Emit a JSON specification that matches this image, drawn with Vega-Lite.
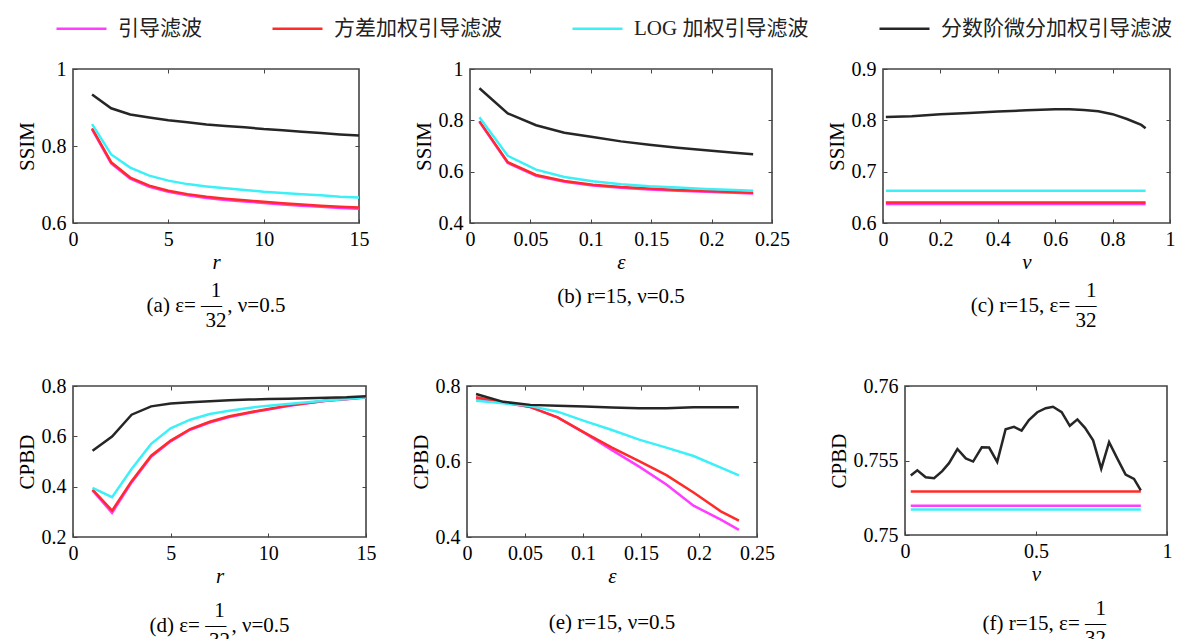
{
  "$schema": "https://vega.github.io/schema/vega-lite/v6.json",
  "background": "white",
  "padding": {"left": 15, "top": 2, "right": 0, "bottom": 0},
  "datasets": {
    "a": [
      {"s":"引导滤波","x":1,"y":0.843},{"s":"引导滤波","x":2,"y":0.755},{"s":"引导滤波","x":3,"y":0.715},{"s":"引导滤波","x":4,"y":0.694},{"s":"引导滤波","x":5,"y":0.681},{"s":"引导滤波","x":6,"y":0.672},{"s":"引导滤波","x":7,"y":0.665},{"s":"引导滤波","x":8,"y":0.660},{"s":"引导滤波","x":9,"y":0.656},{"s":"引导滤波","x":10,"y":0.652},{"s":"引导滤波","x":11,"y":0.648},{"s":"引导滤波","x":12,"y":0.645},{"s":"引导滤波","x":13,"y":0.642},{"s":"引导滤波","x":14,"y":0.639},{"s":"引导滤波","x":15,"y":0.637},
      {"s":"方差加权引导滤波","x":1,"y":0.846},{"s":"方差加权引导滤波","x":2,"y":0.758},{"s":"方差加权引导滤波","x":3,"y":0.718},{"s":"方差加权引导滤波","x":4,"y":0.697},{"s":"方差加权引导滤波","x":5,"y":0.684},{"s":"方差加权引导滤波","x":6,"y":0.675},{"s":"方差加权引导滤波","x":7,"y":0.668},{"s":"方差加权引导滤波","x":8,"y":0.663},{"s":"方差加权引导滤波","x":9,"y":0.659},{"s":"方差加权引导滤波","x":10,"y":0.655},{"s":"方差加权引导滤波","x":11,"y":0.651},{"s":"方差加权引导滤波","x":12,"y":0.648},{"s":"方差加权引导滤波","x":13,"y":0.645},{"s":"方差加权引导滤波","x":14,"y":0.642},{"s":"方差加权引导滤波","x":15,"y":0.640},
      {"s":"LOG 加权引导滤波","x":1,"y":0.857},{"s":"LOG 加权引导滤波","x":2,"y":0.778},{"s":"LOG 加权引导滤波","x":3,"y":0.744},{"s":"LOG 加权引导滤波","x":4,"y":0.723},{"s":"LOG 加权引导滤波","x":5,"y":0.710},{"s":"LOG 加权引导滤波","x":6,"y":0.701},{"s":"LOG 加权引导滤波","x":7,"y":0.695},{"s":"LOG 加权引导滤波","x":8,"y":0.690},{"s":"LOG 加权引导滤波","x":9,"y":0.686},{"s":"LOG 加权引导滤波","x":10,"y":0.681},{"s":"LOG 加权引导滤波","x":11,"y":0.678},{"s":"LOG 加权引导滤波","x":12,"y":0.6745},{"s":"LOG 加权引导滤波","x":13,"y":0.672},{"s":"LOG 加权引导滤波","x":14,"y":0.668},{"s":"LOG 加权引导滤波","x":15,"y":0.666},
      {"s":"分数阶微分加权引导滤波","x":1,"y":0.934},{"s":"分数阶微分加权引导滤波","x":2,"y":0.898},{"s":"分数阶微分加权引导滤波","x":3,"y":0.882},{"s":"分数阶微分加权引导滤波","x":4,"y":0.874},{"s":"分数阶微分加权引导滤波","x":5,"y":0.867},{"s":"分数阶微分加权引导滤波","x":6,"y":0.8615},{"s":"分数阶微分加权引导滤波","x":7,"y":0.856},{"s":"分数阶微分加权引导滤波","x":8,"y":0.852},{"s":"分数阶微分加权引导滤波","x":9,"y":0.8485},{"s":"分数阶微分加权引导滤波","x":10,"y":0.844},{"s":"分数阶微分加权引导滤波","x":11,"y":0.841},{"s":"分数阶微分加权引导滤波","x":12,"y":0.837},{"s":"分数阶微分加权引导滤波","x":13,"y":0.834},{"s":"分数阶微分加权引导滤波","x":14,"y":0.830},{"s":"分数阶微分加权引导滤波","x":15,"y":0.827}
    ],
    "b": [
      {"s":"引导滤波","x":0.0078,"y":0.794},{"s":"引导滤波","x":0.03125,"y":0.634},{"s":"引导滤波","x":0.0547,"y":0.584},{"s":"引导滤波","x":0.0781,"y":0.561},{"s":"引导滤波","x":0.1016,"y":0.546},{"s":"引导滤波","x":0.125,"y":0.537},{"s":"引导滤波","x":0.1484,"y":0.531},{"s":"引导滤波","x":0.1719,"y":0.526},{"s":"引导滤波","x":0.1953,"y":0.522},{"s":"引导滤波","x":0.2188,"y":0.518},{"s":"引导滤波","x":0.2344,"y":0.515},
      {"s":"方差加权引导滤波","x":0.0078,"y":0.797},{"s":"方差加权引导滤波","x":0.03125,"y":0.637},{"s":"方差加权引导滤波","x":0.0547,"y":0.587},{"s":"方差加权引导滤波","x":0.0781,"y":0.564},{"s":"方差加权引导滤波","x":0.1016,"y":0.549},{"s":"方差加权引导滤波","x":0.125,"y":0.540},{"s":"方差加权引导滤波","x":0.1484,"y":0.534},{"s":"方差加权引导滤波","x":0.1719,"y":0.529},{"s":"方差加权引导滤波","x":0.1953,"y":0.525},{"s":"方差加权引导滤波","x":0.2188,"y":0.521},{"s":"方差加权引导滤波","x":0.2344,"y":0.518},
      {"s":"LOG 加权引导滤波","x":0.0078,"y":0.812},{"s":"LOG 加权引导滤波","x":0.03125,"y":0.662},{"s":"LOG 加权引导滤波","x":0.0547,"y":0.608},{"s":"LOG 加权引导滤波","x":0.0781,"y":0.579},{"s":"LOG 加权引导滤波","x":0.1016,"y":0.5625},{"s":"LOG 加权引导滤波","x":0.125,"y":0.551},{"s":"LOG 加权引导滤波","x":0.1484,"y":0.543},{"s":"LOG 加权引导滤波","x":0.1719,"y":0.538},{"s":"LOG 加权引导滤波","x":0.1953,"y":0.5325},{"s":"LOG 加权引导滤波","x":0.2188,"y":0.529},{"s":"LOG 加权引导滤波","x":0.2344,"y":0.526},
      {"s":"分数阶微分加权引导滤波","x":0.0078,"y":0.925},{"s":"分数阶微分加权引导滤波","x":0.03125,"y":0.827},{"s":"分数阶微分加权引导滤波","x":0.0547,"y":0.781},{"s":"分数阶微分加权引导滤波","x":0.0781,"y":0.752},{"s":"分数阶微分加权引导滤波","x":0.1016,"y":0.735},{"s":"分数阶微分加权引导滤波","x":0.125,"y":0.718},{"s":"分数阶微分加权引导滤波","x":0.1484,"y":0.705},{"s":"分数阶微分加权引导滤波","x":0.1719,"y":0.693},{"s":"分数阶微分加权引导滤波","x":0.1953,"y":0.683},{"s":"分数阶微分加权引导滤波","x":0.2188,"y":0.674},{"s":"分数阶微分加权引导滤波","x":0.2344,"y":0.668}
    ],
    "c": [
      {"s":"引导滤波","x":0.01,"y":0.637},{"s":"引导滤波","x":0.915,"y":0.637},
      {"s":"方差加权引导滤波","x":0.01,"y":0.640},{"s":"方差加权引导滤波","x":0.915,"y":0.640},
      {"s":"LOG 加权引导滤波","x":0.01,"y":0.663},{"s":"LOG 加权引导滤波","x":0.915,"y":0.663},
      {"s":"分数阶微分加权引导滤波","x":0.01,"y":0.8065},{"s":"分数阶微分加权引导滤波","x":0.1,"y":0.808},{"s":"分数阶微分加权引导滤波","x":0.2,"y":0.8118},{"s":"分数阶微分加权引导滤波","x":0.3,"y":0.8144},{"s":"分数阶微分加权引导滤波","x":0.4,"y":0.817},{"s":"分数阶微分加权引导滤波","x":0.5,"y":0.8196},{"s":"分数阶微分加权引导滤波","x":0.6,"y":0.8216},{"s":"分数阶微分加权引导滤波","x":0.65,"y":0.8216},{"s":"分数阶微分加权引导滤波","x":0.7,"y":0.8203},{"s":"分数阶微分加权引导滤波","x":0.75,"y":0.8177},{"s":"分数阶微分加权引导滤波","x":0.8,"y":0.812},{"s":"分数阶微分加权引导滤波","x":0.85,"y":0.8026},{"s":"分数阶微分加权引导滤波","x":0.9,"y":0.791},{"s":"分数阶微分加权引导滤波","x":0.915,"y":0.7845}
    ],
    "d": [
      {"s":"引导滤波","x":1,"y":0.385},{"s":"引导滤波","x":2,"y":0.296},{"s":"引导滤波","x":3,"y":0.417},{"s":"引导滤波","x":4,"y":0.519},{"s":"引导滤波","x":5,"y":0.580},{"s":"引导滤波","x":6,"y":0.626},{"s":"引导滤波","x":7,"y":0.655},{"s":"引导滤波","x":8,"y":0.677},{"s":"引导滤波","x":9,"y":0.693},{"s":"引导滤波","x":10,"y":0.707},{"s":"引导滤波","x":11,"y":0.720},{"s":"引导滤波","x":12,"y":0.731},{"s":"引导滤波","x":13,"y":0.741},{"s":"引导滤波","x":14,"y":0.747},{"s":"引导滤波","x":15,"y":0.754},
      {"s":"方差加权引导滤波","x":1,"y":0.388},{"s":"方差加权引导滤波","x":2,"y":0.305},{"s":"方差加权引导滤波","x":3,"y":0.422},{"s":"方差加权引导滤波","x":4,"y":0.523},{"s":"方差加权引导滤波","x":5,"y":0.583},{"s":"方差加权引导滤波","x":6,"y":0.629},{"s":"方差加权引导滤波","x":7,"y":0.658},{"s":"方差加权引导滤波","x":8,"y":0.6795},{"s":"方差加权引导滤波","x":9,"y":0.695},{"s":"方差加权引导滤波","x":10,"y":0.709},{"s":"方差加权引导滤波","x":11,"y":0.722},{"s":"方差加权引导滤波","x":12,"y":0.7325},{"s":"方差加权引导滤波","x":13,"y":0.742},{"s":"方差加权引导滤波","x":14,"y":0.748},{"s":"方差加权引导滤波","x":15,"y":0.755},
      {"s":"LOG 加权引导滤波","x":1,"y":0.395},{"s":"LOG 加权引导滤波","x":2,"y":0.358},{"s":"LOG 加权引导滤波","x":3,"y":0.470},{"s":"LOG 加权引导滤波","x":4,"y":0.570},{"s":"LOG 加权引导滤波","x":5,"y":0.632},{"s":"LOG 加权引导滤波","x":6,"y":0.666},{"s":"LOG 加权引导滤波","x":7,"y":0.689},{"s":"LOG 加权引导滤波","x":8,"y":0.702},{"s":"LOG 加权引导滤波","x":9,"y":0.713},{"s":"LOG 加权引导滤波","x":10,"y":0.722},{"s":"LOG 加权引导滤波","x":11,"y":0.7285},{"s":"LOG 加权引导滤波","x":12,"y":0.735},{"s":"LOG 加权引导滤波","x":13,"y":0.742},{"s":"LOG 加权引导滤波","x":14,"y":0.748},{"s":"LOG 加权引导滤波","x":15,"y":0.755},
      {"s":"分数阶微分加权引导滤波","x":1,"y":0.543},{"s":"分数阶微分加权引导滤波","x":2,"y":0.599},{"s":"分数阶微分加权引导滤波","x":3,"y":0.686},{"s":"分数阶微分加权引导滤波","x":4,"y":0.719},{"s":"分数阶微分加权引导滤波","x":5,"y":0.730},{"s":"分数阶微分加权引导滤波","x":6,"y":0.735},{"s":"分数阶微分加权引导滤波","x":7,"y":0.739},{"s":"分数阶微分加权引导滤波","x":8,"y":0.743},{"s":"分数阶微分加权引导滤波","x":9,"y":0.746},{"s":"分数阶微分加权引导滤波","x":10,"y":0.748},{"s":"分数阶微分加权引导滤波","x":11,"y":0.749},{"s":"分数阶微分加权引导滤波","x":12,"y":0.751},{"s":"分数阶微分加权引导滤波","x":13,"y":0.753},{"s":"分数阶微分加权引导滤波","x":14,"y":0.755},{"s":"分数阶微分加权引导滤波","x":15,"y":0.759}
    ],
    "e": [
      {"s":"引导滤波","x":0.0078,"y":0.767},{"s":"引导滤波","x":0.03125,"y":0.756},{"s":"引导滤波","x":0.0547,"y":0.744},{"s":"引导滤波","x":0.0781,"y":0.717},{"s":"引导滤波","x":0.1016,"y":0.675},{"s":"引导滤波","x":0.125,"y":0.630},{"s":"引导滤波","x":0.1484,"y":0.5865},{"s":"引导滤波","x":0.1719,"y":0.539},{"s":"引导滤波","x":0.1953,"y":0.483},{"s":"引导滤波","x":0.2188,"y":0.446},{"s":"引导滤波","x":0.2344,"y":0.419},
      {"s":"方差加权引导滤波","x":0.0078,"y":0.770},{"s":"方差加权引导滤波","x":0.03125,"y":0.757},{"s":"方差加权引导滤波","x":0.0547,"y":0.744},{"s":"方差加权引导滤波","x":0.0781,"y":0.717},{"s":"方差加权引导滤波","x":0.1016,"y":0.676},{"s":"方差加权引导滤波","x":0.125,"y":0.637},{"s":"方差加权引导滤波","x":0.1484,"y":0.601},{"s":"方差加权引导滤波","x":0.1719,"y":0.564},{"s":"方差加权引导滤波","x":0.1953,"y":0.518},{"s":"方差加权引导滤波","x":0.2188,"y":0.468},{"s":"方差加权引导滤波","x":0.2344,"y":0.4435},
      {"s":"LOG 加权引导滤波","x":0.0078,"y":0.761},{"s":"LOG 加权引导滤波","x":0.03125,"y":0.754},{"s":"LOG 加权引导滤波","x":0.0547,"y":0.7467},{"s":"LOG 加权引导滤波","x":0.0781,"y":0.732},{"s":"LOG 加权引导滤波","x":0.1016,"y":0.707},{"s":"LOG 加权引导滤波","x":0.125,"y":0.6834},{"s":"LOG 加权引导滤波","x":0.1484,"y":0.658},{"s":"LOG 加权引导滤波","x":0.1719,"y":0.6368},{"s":"LOG 加权引导滤波","x":0.1953,"y":0.6145},{"s":"LOG 加权引导滤波","x":0.2188,"y":0.584},{"s":"LOG 加权引导滤波","x":0.2344,"y":0.5635},
      {"s":"分数阶微分加权引导滤波","x":0.0078,"y":0.7787},{"s":"分数阶微分加权引导滤波","x":0.03125,"y":0.758},{"s":"分数阶微分加权引导滤波","x":0.0547,"y":0.750},{"s":"分数阶微分加权引导滤波","x":0.0781,"y":0.7476},{"s":"分数阶微分加权引导滤波","x":0.1016,"y":0.746},{"s":"分数阶微分加权引导滤波","x":0.125,"y":0.743},{"s":"分数阶微分加权引导滤波","x":0.1484,"y":0.7413},{"s":"分数阶微分加权引导滤波","x":0.1719,"y":0.7413},{"s":"分数阶微分加权引导滤波","x":0.1953,"y":0.744},{"s":"分数阶微分加权引导滤波","x":0.2188,"y":0.744},{"s":"分数阶微分加权引导滤波","x":0.2344,"y":0.744}
    ],
    "f": [
      {"s":"引导滤波","x":0.022,"y":0.75197},{"s":"引导滤波","x":0.9,"y":0.75197},
      {"s":"方差加权引导滤波","x":0.022,"y":0.75292},{"s":"方差加权引导滤波","x":0.9,"y":0.75292},
      {"s":"LOG 加权引导滤波","x":0.022,"y":0.75171},{"s":"LOG 加权引导滤波","x":0.9,"y":0.75171},
      {"s":"分数阶微分加权引导滤波","x":0.022,"y":0.75400},{"s":"分数阶微分加权引导滤波","x":0.047,"y":0.75434},{"s":"分数阶微分加权引导滤波","x":0.079,"y":0.75388},{"s":"分数阶微分加权引导滤波","x":0.111,"y":0.75381},{"s":"分数阶微分加权引导滤波","x":0.142,"y":0.75429},{"s":"分数阶微分加权引导滤波","x":0.168,"y":0.75482},{"s":"分数阶微分加权引导滤波","x":0.200,"y":0.75577},{"s":"分数阶微分加权引导滤波","x":0.232,"y":0.75514},{"s":"分数阶微分加权引导滤波","x":0.260,"y":0.75493},{"s":"分数阶微分加权引导滤波","x":0.293,"y":0.75589},{"s":"分数阶微分加权引导滤波","x":0.321,"y":0.75587},{"s":"分数阶微分加权引导滤波","x":0.352,"y":0.75491},{"s":"分数阶微分加权引导滤波","x":0.384,"y":0.75710},{"s":"分数阶微分加权引导滤波","x":0.416,"y":0.75726},{"s":"分数阶微分加权引导滤波","x":0.445,"y":0.75701},{"s":"分数阶微分加权引导滤波","x":0.473,"y":0.75772},{"s":"分数阶微分加权引导滤波","x":0.505,"y":0.75824},{"s":"分数阶微分加权引导滤波","x":0.537,"y":0.75851},{"s":"分数阶微分加权引导滤波","x":0.565,"y":0.75861},{"s":"分数阶微分加权引导滤波","x":0.598,"y":0.75824},{"s":"分数阶微分加权引导滤波","x":0.629,"y":0.75733},{"s":"分数阶微分加权引导滤波","x":0.658,"y":0.75776},{"s":"分数阶微分加权引导滤波","x":0.687,"y":0.75719},{"s":"分数阶微分加权引导滤波","x":0.718,"y":0.75635},{"s":"分数阶微分加权引导滤波","x":0.749,"y":0.75445},{"s":"分数阶微分加权引导滤波","x":0.779,"y":0.75623},{"s":"分数阶微分加权引导滤波","x":0.810,"y":0.75514},{"s":"分数阶微分加权引导滤波","x":0.842,"y":0.75406},{"s":"分数阶微分加权引导滤波","x":0.874,"y":0.75377},{"s":"分数阶微分加权引导滤波","x":0.900,"y":0.75299}
    ]
  },
  "vconcat": [
    {
      "bounds": "flush",
      "spacing": 111,
      "hconcat": [
        {
          "width": 286, "height": 154,
          "data": {"name": "a"},
          "title": {"text": ["1", "\u2002(a) ε= — , ν=0.5", "32"], "offset": 8},
          "layer": [
            {"mark": {"type": "line", "strokeWidth": 2.5},
             "encoding": {
               "x": {"field": "x", "type": "quantitative", "scale": {"domain": [0, 15], "nice": false, "zero": false}, "axis": {"values": [0, 5, 10, 15], "format": "~g", "title": "r", "titleFontStyle": "italic"}},
               "y": {"field": "y", "type": "quantitative", "scale": {"domain": [0.6, 1], "nice": false, "zero": false}, "axis": {"values": [0.6, 0.8, 1], "format": "~g", "title": "SSIM"}},
               "color": {"field": "s", "type": "nominal", "scale": {"domain": ["引导滤波", "方差加权引导滤波", "LOG 加权引导滤波", "分数阶微分加权引导滤波"], "range": ["#ff3cff", "#ff2a2a", "#3cf0f8", "#262626"]}, "legend": {"title": null}}
             }},
            {"mark": {"type": "point", "opacity": 0},
             "encoding": {
               "x": {"field": "x", "type": "quantitative", "axis": {"orient": "top", "values": [5, 10], "labels": false, "title": null}},
               "y": {"field": "y", "type": "quantitative", "axis": {"orient": "right", "values": [0.8], "labels": false, "title": null}}
             }}
          ],
          "resolve": {"axis": {"x": "independent", "y": "independent"}}
        },
        {
          "bounds": "flush",
          "spacing": 111,
          "hconcat": [
            {
              "width": 302, "height": 154,
              "data": {"name": "b"},
              "title": {"text": "(b) r=15, ν=0.5", "offset": 14},
              "layer": [
                {"mark": {"type": "line", "strokeWidth": 2.5},
                 "encoding": {
                   "x": {"field": "x", "type": "quantitative", "scale": {"domain": [0, 0.25], "nice": false, "zero": false}, "axis": {"values": [0, 0.05, 0.1, 0.15, 0.2, 0.25], "format": "~g", "title": "ε", "titleFontStyle": "italic"}},
                   "y": {"field": "y", "type": "quantitative", "scale": {"domain": [0.4, 1], "nice": false, "zero": false}, "axis": {"values": [0.4, 0.6, 0.8, 1], "format": "~g", "title": "SSIM"}},
                   "color": {"field": "s", "type": "nominal", "scale": {"domain": ["引导滤波", "方差加权引导滤波", "LOG 加权引导滤波", "分数阶微分加权引导滤波"], "range": ["#ff3cff", "#ff2a2a", "#3cf0f8", "#262626"]}, "legend": {"title": null}}
                 }},
                {"mark": {"type": "point", "opacity": 0},
                 "encoding": {
                   "x": {"field": "x", "type": "quantitative", "axis": {"orient": "top", "values": [0.05, 0.1, 0.15, 0.2], "labels": false, "title": null}},
                   "y": {"field": "y", "type": "quantitative", "axis": {"orient": "right", "values": [0.6, 0.8], "labels": false, "title": null}}
                 }}
              ],
              "resolve": {"axis": {"x": "independent", "y": "independent"}}
            },
            {
              "width": 287, "height": 154,
              "data": {"name": "c"},
              "title": {"text": ["1\u2009", "(c) r=15, ε= —", "32"], "offset": 8, "align": "right", "dx": 70},
              "layer": [
                {"mark": {"type": "line", "strokeWidth": 2.5},
                 "encoding": {
                   "x": {"field": "x", "type": "quantitative", "scale": {"domain": [0, 1], "nice": false, "zero": false}, "axis": {"values": [0, 0.2, 0.4, 0.6, 0.8, 1], "format": "~g", "title": "ν", "titleFontStyle": "italic"}},
                   "y": {"field": "y", "type": "quantitative", "scale": {"domain": [0.6, 0.9], "nice": false, "zero": false}, "axis": {"values": [0.6, 0.7, 0.8, 0.9], "format": "~g", "title": "SSIM"}},
                   "color": {"field": "s", "type": "nominal", "scale": {"domain": ["引导滤波", "方差加权引导滤波", "LOG 加权引导滤波", "分数阶微分加权引导滤波"], "range": ["#ff3cff", "#ff2a2a", "#3cf0f8", "#262626"]}, "legend": {"title": null}}
                 }},
                {"mark": {"type": "point", "opacity": 0},
                 "encoding": {
                   "x": {"field": "x", "type": "quantitative", "axis": {"orient": "top", "values": [0.2, 0.4, 0.6, 0.8], "labels": false, "title": null}},
                   "y": {"field": "y", "type": "quantitative", "axis": {"orient": "right", "values": [0.7, 0.8], "labels": false, "title": null}}
                 }}
              ],
              "resolve": {"axis": {"x": "independent", "y": "independent"}}
            }
          ]
        }
      ]
    },
    {
      "bounds": "flush",
      "spacing": 101,
      "hconcat": [
        {
          "width": 293, "height": 151,
          "data": {"name": "d"},
          "title": {"text": ["1", "\u2002(d) ε= — , ν=0.5", "32"], "offset": 14},
          "layer": [
            {"mark": {"type": "line", "strokeWidth": 2.5},
             "encoding": {
               "x": {"field": "x", "type": "quantitative", "scale": {"domain": [0, 15], "nice": false, "zero": false}, "axis": {"values": [0, 5, 10, 15], "format": "~g", "title": "r", "titleFontStyle": "italic"}},
               "y": {"field": "y", "type": "quantitative", "scale": {"domain": [0.2, 0.8], "nice": false, "zero": false}, "axis": {"values": [0.2, 0.4, 0.6, 0.8], "format": "~g", "title": "CPBD"}},
               "color": {"field": "s", "type": "nominal", "scale": {"domain": ["引导滤波", "方差加权引导滤波", "LOG 加权引导滤波", "分数阶微分加权引导滤波"], "range": ["#ff3cff", "#ff2a2a", "#3cf0f8", "#262626"]}, "legend": {"title": null}}
             }},
            {"mark": {"type": "point", "opacity": 0},
             "encoding": {
               "x": {"field": "x", "type": "quantitative", "axis": {"orient": "top", "values": [5, 10], "labels": false, "title": null}},
               "y": {"field": "y", "type": "quantitative", "axis": {"orient": "right", "values": [0.4, 0.6], "labels": false, "title": null}}
             }}
          ],
          "resolve": {"axis": {"x": "independent", "y": "independent"}}
        },
        {
          "bounds": "flush",
          "spacing": 148,
          "hconcat": [
            {
              "width": 290, "height": 151,
              "data": {"name": "e"},
              "title": {"text": "(e) r=15, ν=0.5", "offset": 26},
              "layer": [
                {"mark": {"type": "line", "strokeWidth": 2.5},
                 "encoding": {
                   "x": {"field": "x", "type": "quantitative", "scale": {"domain": [0, 0.25], "nice": false, "zero": false}, "axis": {"values": [0, 0.05, 0.1, 0.15, 0.2, 0.25], "format": "~g", "title": "ε", "titleFontStyle": "italic"}},
                   "y": {"field": "y", "type": "quantitative", "scale": {"domain": [0.4, 0.8], "nice": false, "zero": false}, "axis": {"values": [0.4, 0.6, 0.8], "format": "~g", "title": "CPBD"}},
                   "color": {"field": "s", "type": "nominal", "scale": {"domain": ["引导滤波", "方差加权引导滤波", "LOG 加权引导滤波", "分数阶微分加权引导滤波"], "range": ["#ff3cff", "#ff2a2a", "#3cf0f8", "#262626"]}, "legend": {"title": null}}
                 }},
                {"mark": {"type": "point", "opacity": 0},
                 "encoding": {
                   "x": {"field": "x", "type": "quantitative", "axis": {"orient": "top", "values": [0.05, 0.1, 0.15, 0.2], "labels": false, "title": null}},
                   "y": {"field": "y", "type": "quantitative", "axis": {"orient": "right", "values": [0.6], "labels": false, "title": null}}
                 }}
              ],
              "resolve": {"axis": {"x": "independent", "y": "independent"}}
            },
            {
              "width": 262, "height": 149,
              "data": {"name": "f"},
              "title": {"text": ["1\u2009", "(f) r=15, ε= —", "32"], "offset": 14, "align": "right", "dx": 70},
              "layer": [
                {"mark": {"type": "line", "strokeWidth": 2.5},
                 "encoding": {
                   "x": {"field": "x", "type": "quantitative", "scale": {"domain": [0, 1], "nice": false, "zero": false}, "axis": {"values": [0, 0.5, 1], "format": "~g", "title": "ν", "titleFontStyle": "italic"}},
                   "y": {"field": "y", "type": "quantitative", "scale": {"domain": [0.75, 0.76], "nice": false, "zero": false}, "axis": {"values": [0.75, 0.755, 0.76], "format": "~g", "title": "CPBD"}},
                   "color": {"field": "s", "type": "nominal", "scale": {"domain": ["引导滤波", "方差加权引导滤波", "LOG 加权引导滤波", "分数阶微分加权引导滤波"], "range": ["#ff3cff", "#ff2a2a", "#3cf0f8", "#262626"]}, "legend": {"title": null}}
                 }},
                {"mark": {"type": "point", "opacity": 0},
                 "encoding": {
                   "x": {"field": "x", "type": "quantitative", "axis": {"orient": "top", "values": [0.5], "labels": false, "title": null}},
                   "y": {"field": "y", "type": "quantitative", "axis": {"orient": "right", "values": [0.755], "labels": false, "title": null}}
                 }}
              ],
              "resolve": {"axis": {"x": "independent", "y": "independent"}}
            }
          ]
        }
      ]
    }
  ],
  "spacing": 43,
  "resolve": {"scale": {"color": "shared"}, "legend": {"color": "shared"}},
  "config": {
    "view": {"stroke": "#444444", "strokeWidth": 1.6},
    "axis": {
      "labelFont": "Liberation Serif", "labelFontSize": 20, "labelColor": "#000000",
      "titleFont": "Liberation Serif", "titleFontSize": 21, "titleFontWeight": "normal", "titleColor": "#000000",
      "domain": false, "grid": false,
      "tickColor": "#444444", "tickSize": -4, "tickWidth": 1,
      "labelOverlap": false, "labelFlush": false
    },
    "axisLeft": {"labelPadding": 11, "titlePadding": 4},
    "axisBottom": {"labelPadding": 10, "titlePadding": 2},
    "title": {"font": "Liberation Serif", "fontSize": 21, "fontWeight": "normal", "color": "#000000", "orient": "bottom", "anchor": "middle", "lineHeight": 15},
    "legend": {
      "orient": "none", "legendX": -18, "legendY": -67, "direction": "horizontal",
      "symbolType": "stroke", "symbolSize": 2500, "symbolStrokeWidth": 2.5,
      "labelFont": "Liberation Serif, Noto Sans CJK SC", "labelFontSize": 21, "labelColor": "#222222",
      "labelOffset": 10, "columnPadding": 65, "labelLimit": 400
    }
  }
}
